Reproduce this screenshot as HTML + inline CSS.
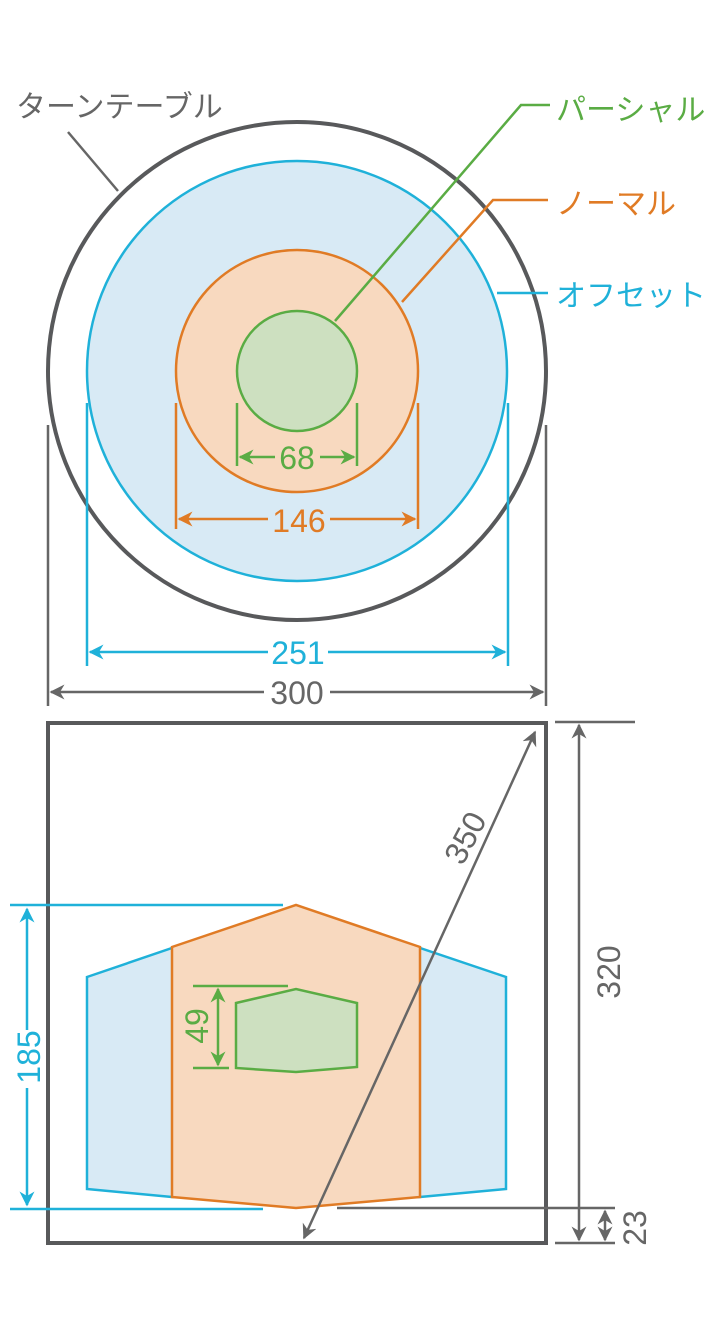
<!DOCTYPE html>
<html><head><meta charset="utf-8"><style>html,body{margin:0;padding:0;background:#fff}svg{display:block}text{font-family:"Liberation Sans","Noto Sans CJK JP",sans-serif}</style></head><body>
<svg width="725" height="1327" viewBox="0 0 725 1327" xmlns="http://www.w3.org/2000/svg">
<defs>
<marker id="ag" viewBox="0 0 10 10" refX="9" refY="5" markerWidth="6" markerHeight="6" orient="auto-start-reverse"><path d="M0,0 L10,5 L0,10 L3,5z" fill="#666"/></marker>
<marker id="ab" viewBox="0 0 10 10" refX="9" refY="5" markerWidth="6" markerHeight="6" orient="auto-start-reverse"><path d="M0,0 L10,5 L0,10 L3,5z" fill="#1fb1d9"/></marker>
<marker id="ao" viewBox="0 0 10 10" refX="9" refY="5" markerWidth="6" markerHeight="6" orient="auto-start-reverse"><path d="M0,0 L10,5 L0,10 L3,5z" fill="#e07b25"/></marker>
<marker id="an" viewBox="0 0 10 10" refX="9" refY="5" markerWidth="6" markerHeight="6" orient="auto-start-reverse"><path d="M0,0 L10,5 L0,10 L3,5z" fill="#5aac44"/></marker>
</defs>
<circle cx="297" cy="371" r="249" fill="#fff" stroke="#58595b" stroke-width="4"/>
<circle cx="297" cy="371" r="210" fill="#d8eaf5" stroke="#1fb1d9" stroke-width="2.5"/>
<circle cx="297" cy="371" r="121" fill="#f8d9bf" stroke="#e07b25" stroke-width="2.5"/>
<circle cx="297" cy="371" r="60" fill="#cde0c0" stroke="#5aac44" stroke-width="2.5"/>
<g stroke="#5aac44" stroke-width="2.5"><line x1="237" y1="403" x2="237" y2="466"/><line x1="357" y1="403" x2="357" y2="466"/>
<line x1="240" y1="457" x2="275" y2="457" marker-start="url(#an)"/><line x1="320" y1="457" x2="354" y2="457" marker-end="url(#an)"/></g>
<text x="297" y="469" font-size="32" fill="#5aac44" text-anchor="middle">68</text>
<g stroke="#e07b25" stroke-width="2.5"><line x1="176" y1="403" x2="176" y2="529"/><line x1="418" y1="403" x2="418" y2="529"/>
<line x1="179" y1="519" x2="268" y2="519" marker-start="url(#ao)"/><line x1="330" y1="519" x2="415" y2="519" marker-end="url(#ao)"/></g>
<text x="299" y="532" font-size="32" fill="#e07b25" text-anchor="middle">146</text>
<g stroke="#1fb1d9" stroke-width="2.5"><line x1="87" y1="403" x2="87" y2="666"/><line x1="508" y1="403" x2="508" y2="666"/>
<line x1="90" y1="652" x2="268" y2="652" marker-start="url(#ab)"/><line x1="328" y1="652" x2="505" y2="652" marker-end="url(#ab)"/></g>
<text x="298" y="664" font-size="32" fill="#1fb1d9" text-anchor="middle">251</text>
<g stroke="#666" stroke-width="2.5"><line x1="48" y1="425" x2="48" y2="706"/><line x1="546" y1="425" x2="546" y2="706"/>
<line x1="51" y1="692" x2="264" y2="692" marker-start="url(#ag)"/><line x1="330" y1="692" x2="543" y2="692" marker-end="url(#ag)"/></g>
<text x="297" y="704" font-size="32" fill="#666" text-anchor="middle">300</text>
<text x="16" y="117" font-size="30" fill="#666">ターンテーブル</text>
<line x1="68" y1="132" x2="118" y2="191" stroke="#666" stroke-width="2.5"/>
<text x="556" y="120" font-size="30" fill="#5aac44">パーシャル</text>
<polyline points="550,105 521,105 335,321" fill="none" stroke="#5aac44" stroke-width="2.5"/>
<text x="556" y="214" font-size="30" fill="#e07b25">ノーマル</text>
<polyline points="548,200 493,200 402,302" fill="none" stroke="#e07b25" stroke-width="2.5"/>
<text x="556" y="306" font-size="30" fill="#1fb1d9">オフセット</text>
<line x1="497" y1="293" x2="548" y2="293" stroke="#1fb1d9" stroke-width="2.5"/>
<rect x="48" y="723" width="498" height="520" fill="#fff" stroke="#58595b" stroke-width="4"/>
<polygon points="87,977 172,948 420,948 506,977 506,1189 420,1197 172,1197 87,1189" fill="#d8eaf5" stroke="#1fb1d9" stroke-width="2.5"/>
<polygon points="172,947 296,905 420,947 420,1197 296,1208 172,1197" fill="#f8d9bf" stroke="#e07b25" stroke-width="2.5"/>
<polygon points="236,1003 296,989 357,1003 357,1067 296,1072 236,1068" fill="#cde0c0" stroke="#5aac44" stroke-width="2.5"/>
<g stroke="#1fb1d9" stroke-width="2.5"><line x1="10" y1="905" x2="283" y2="905"/><line x1="10" y1="1209" x2="263" y2="1209"/>
<line x1="27" y1="909" x2="27" y2="1030" marker-start="url(#ab)"/><line x1="27" y1="1088" x2="27" y2="1205" marker-end="url(#ab)"/></g>
<text transform="translate(40,1057) rotate(-90)" font-size="32" fill="#1fb1d9" text-anchor="middle">185</text>
<g stroke="#5aac44" stroke-width="2.5"><line x1="193" y1="986" x2="288" y2="986"/><line x1="193" y1="1068" x2="229" y2="1068"/>
<line x1="218" y1="989" x2="218" y2="1065" marker-start="url(#an)" marker-end="url(#an)"/></g>
<text transform="translate(208,1026) rotate(-90)" font-size="32" fill="#5aac44" text-anchor="middle">49</text>
<g stroke="#666" stroke-width="2.5">
<line x1="304" y1="1238" x2="535" y2="732" marker-start="url(#ag)" marker-end="url(#ag)"/>
<line x1="555" y1="722" x2="635" y2="722"/><line x1="555" y1="1243" x2="615" y2="1243"/><line x1="337" y1="1208" x2="615" y2="1208"/>
<line x1="579" y1="725" x2="579" y2="1240" marker-start="url(#ag)" marker-end="url(#ag)"/>
<line x1="605" y1="1211" x2="605" y2="1240" marker-start="url(#ag)" marker-end="url(#ag)"/></g>
<text transform="translate(475,843) rotate(-62)" font-size="32" fill="#666" text-anchor="middle">350</text>
<text transform="translate(620,972) rotate(-90)" font-size="32" fill="#666" text-anchor="middle">320</text>
<text transform="translate(646,1228) rotate(-90)" font-size="32" fill="#666" text-anchor="middle">23</text>
</svg>
</body></html>
